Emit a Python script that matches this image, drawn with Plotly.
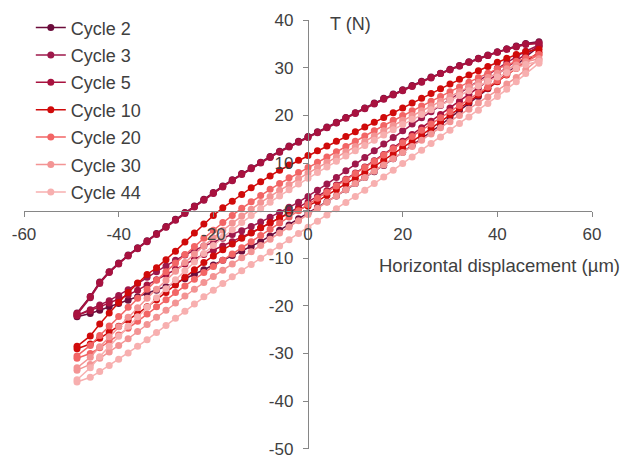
import plotly.graph_objects as go

# Horizontal displacement grid (µm) for each branch
X_GRID = [-48.8, -46, -44, -42, -40, -38, -36, -34, -32, -30, -28, -26, -24, -22, -20,
          -18, -16, -14, -12, -10, -8, -6, -4, -2, 0, 2, 4, 6, 8, 10, 12, 14, 16, 18,
          20, 22, 24, 26, 28, 30, 32, 34, 36, 38, 40, 42, 44, 46, 48.8]

cycles = ["Cycle 2", "Cycle 3", "Cycle 5", "Cycle 10", "Cycle 20", "Cycle 30", "Cycle 44"]
colors = ["#6C0C3B", "#9E184B", "#A8123F", "#D00A0A", "#F26565", "#F39494", "#F7AFAF"]

# Loading (lower) branches, T (N)
lower_c2 = [-22.3, -21.6, -20.9, -20.2, -19.5, -18.8, -18.1, -17.4, -16.7, -16.0, -15.2, -14.3, -13.4,
            -12.4, -11.4, -10.4, -9.4, -8.5, -7.5, -6.5, -5.3, -4.1, -3.0, -1.7, -0.5, 0.7, 1.9, 3.1,
            4.4, 5.7, 7.0, 8.2, 9.5, 10.9, 12.3, 13.7, 15.1, 16.5, 18.0, 19.5, 21.0, 22.5, 24.0, 25.6,
            27.2, 28.8, 30.5, 32.3, 34.5]
lower_c3 = [-22.0, -20.8, -19.8, -18.9, -17.8, -16.6, -15.3, -14.0, -12.8, -11.6, -10.4, -9.3, -8.3,
            -7.4, -6.6, -5.8, -5.0, -4.2, -3.3, -2.4, -1.4, -0.4, 0.7, 1.8, 3.0, 4.3, 5.6, 7.0, 8.4,
            9.8, 11.2, 12.6, 14.0, 15.4, 16.8, 18.2, 19.5, 20.8, 22.1, 23.4, 24.7, 26.0, 27.3, 28.6,
            29.9, 31.1, 32.3, 33.5, 34.8]
lower_c5 = [-22.0, -21.0, -20.2, -19.4, -18.6, -17.7, -16.7, -15.6, -14.5, -13.4, -12.3, -11.2, -10.2,
            -9.2, -8.3, -7.4, -6.5, -5.6, -4.6, -3.6, -2.6, -1.5, -0.4, 0.7, 1.8, 3.0, 4.2, 5.4, 6.6,
            7.9, 9.2, 10.5, 11.8, 13.2, 14.6, 16.0, 17.4, 18.8, 20.2, 21.6, 23.0, 24.4, 25.8, 27.2,
            28.6, 30.0, 31.4, 32.9, 34.6]
lower_c10 = [-29.0, -28.0, -26.8, -25.5, -24.3, -23.0, -21.6, -20.2, -18.7, -17.2, -15.6, -14.0, -12.4,
             -10.9, -9.5, -8.2, -7.0, -5.8, -4.7, -3.6, -2.5, -1.5, -0.6, 0.2, 1.0, 2.0, 3.2, 4.4, 5.6,
             6.8, 8.0, 9.3, 10.6, 11.9, 13.2, 14.5, 15.9, 17.3, 18.7, 20.1, 21.5, 22.9, 24.3, 25.7,
             27.1, 28.5, 29.9, 31.4, 33.3]
lower_c20 = [-31.0, -30.0, -28.8, -27.5, -26.1, -24.7, -23.2, -21.7, -20.2, -18.7, -17.2, -15.8, -14.4,
             -13.0, -11.7, -10.4, -9.1, -7.8, -6.5, -5.2, -3.9, -2.6, -1.3, 0.0, 1.3, 2.6, 3.9, 5.2,
             6.5, 7.8, 9.1, 10.4, 11.7, 13.0, 14.3, 15.6, 16.9, 18.2, 19.5, 20.8, 22.1, 23.4, 24.7,
             26.0, 27.3, 28.6, 29.9, 31.2, 32.8]
lower_c30 = [-33.5, -32.3, -31.0, -29.7, -28.3, -26.9, -25.4, -23.9, -22.4, -20.9, -19.4, -17.9, -16.5,
             -15.1, -13.8, -12.5, -11.2, -9.9, -8.6, -7.3, -6.0, -4.7, -3.4, -2.1, -0.8, 0.5, 1.8, 3.1,
             4.4, 5.7, 7.0, 8.3, 9.6, 10.9, 12.2, 13.5, 14.8, 16.1, 17.4, 18.7, 20.0, 21.3, 22.6, 23.9,
             25.2, 26.6, 28.0, 29.6, 31.7]
lower_c44 = [-36.0, -35.0, -33.8, -32.5, -31.2, -29.9, -28.5, -27.1, -25.6, -24.1, -22.6, -21.1, -19.6,
             -18.1, -16.7, -15.3, -13.9, -12.6, -11.3, -10.0, -8.7, -7.4, -6.1, -4.8, -3.5, -2.2, -0.9,
             0.4, 1.7, 3.0, 4.3, 5.7, 7.1, 8.5, 9.9, 11.3, 12.7, 14.1, 15.5, 16.9, 18.3, 19.7, 21.1,
             22.5, 24.0, 25.5, 27.1, 28.8, 31.0]

# Unloading (upper) branches, T (N)
upper_c2 = [-21.5, -18.0, -15.0, -12.8, -11.0, -9.3, -7.8, -6.3, -4.8, -3.3, -1.8, -0.4, 1.0, 2.4, 3.8,
            5.2, 6.5, 7.8, 9.0, 10.2, 11.4, 12.5, 13.6, 14.6, 15.6, 16.6, 17.6, 18.6, 19.6, 20.6, 21.6,
            22.6, 23.6, 24.5, 25.4, 26.3, 27.2, 28.1, 28.9, 29.7, 30.5, 31.3, 32.0, 32.7, 33.4, 34.0,
            34.6, 35.1, 35.5]
upper_c3 = [-21.8, -18.3, -15.3, -13.0, -11.2, -9.5, -8.0, -6.5, -5.0, -3.5, -2.0, -0.6, 0.8, 2.2, 3.6,
            5.0, 6.3, 7.6, 8.8, 10.0, 11.2, 12.3, 13.4, 14.4, 15.4, 16.4, 17.4, 18.4, 19.4, 20.4, 21.4,
            22.4, 23.4, 24.3, 25.2, 26.1, 27.0, 27.9, 28.8, 29.6, 30.4, 31.2, 31.9, 32.6, 33.3, 33.9,
            34.5, 35.0, 35.3]
upper_c5 = [-21.6, -18.1, -15.1, -12.9, -11.1, -9.4, -7.9, -6.4, -4.9, -3.4, -1.9, -0.5, 0.9, 2.3, 3.7,
            5.1, 6.4, 7.7, 8.9, 10.1, 11.3, 12.4, 13.5, 14.5, 15.5, 16.5, 17.5, 18.5, 19.5, 20.5, 21.5,
            22.5, 23.5, 24.4, 25.3, 26.2, 27.1, 28.0, 28.8, 29.6, 30.4, 31.2, 31.9, 32.6, 33.3, 33.9,
            34.4, 34.9, 35.1]
upper_c10 = [-28.5, -26.3, -23.8, -21.5, -19.3, -17.2, -15.2, -13.4, -12.0, -10.3, -8.5, -6.6, -4.7,
             -2.8, -1.0, 0.6, 2.0, 3.4, 4.8, 6.1, 7.3, 8.5, 9.6, 10.6, 11.6, 12.6, 13.6, 14.6, 15.6,
             16.6, 17.6, 18.6, 19.6, 20.6, 21.6, 22.6, 23.6, 24.6, 25.6, 26.6, 27.6, 28.5, 29.4,
             30.3, 31.2, 32.0, 32.8, 33.4, 33.9]
upper_c20 = [-30.5, -28.3, -26.2, -24.2, -22.2, -20.3, -18.4, -16.5, -14.6, -12.8, -11.0, -9.2, -7.5,
             -5.8, -4.1, -2.5, -1.0, 0.5, 1.9, 3.2, 4.5, 5.7, 6.9, 8.0, 9.1, 10.2, 11.3, 12.4, 13.5,
             14.6, 15.7, 16.8, 17.9, 19.0, 20.0, 21.0, 22.0, 23.0, 24.0, 25.0, 26.0, 27.0, 28.0, 28.9,
             29.8, 30.6, 31.4, 32.1, 32.7]
upper_c30 = [-33.0, -30.8, -28.6, -26.5, -24.4, -22.4, -20.4, -18.4, -16.5, -14.6, -12.7, -10.9, -9.1,
             -7.4, -5.7, -4.1, -2.6, -1.1, 0.3, 1.7, 3.0, 4.3, 5.5, 6.7, 7.9, 9.1, 10.2, 11.3, 12.4,
             13.5, 14.6, 15.7, 16.8, 17.9, 19.0, 20.0, 21.0, 22.0, 23.0, 24.0, 25.0, 26.0, 27.0, 28.0,
             28.9, 29.8, 30.6, 31.3, 31.9]
upper_c44 = [-35.5, -33.0, -30.7, -28.5, -26.4, -24.3, -22.3, -20.3, -18.3, -16.4, -14.5, -12.6, -10.8,
             -9.0, -7.3, -5.6, -4.0, -2.5, -1.0, 0.4, 1.8, 3.1, 4.4, 5.6, 6.8, 8.0, 9.2, 10.4, 11.5,
             12.6, 13.7, 14.8, 15.9, 17.0, 18.1, 19.2, 20.2, 21.2, 22.2, 23.2, 24.2, 25.2, 26.2, 27.2,
             28.1, 29.0, 29.9, 30.7, 31.4]

lowers = [lower_c2, lower_c3, lower_c5, lower_c10, lower_c20, lower_c30, lower_c44]
uppers = [upper_c2, upper_c3, upper_c5, upper_c10, upper_c20, upper_c30, upper_c44]

X_TICKS = [-60, -40, -20, 0, 20, 40, 60]
Y_TICKS = [-50, -40, -30, -20, -10, 0, 10, 20, 30, 40]
X_RANGE = [-60, 60]
Y_RANGE = [-50, 40]

FONT = "Liberation Sans, Arial, sans-serif"
TXT = "#404040"
AX = "#868686"

fig = go.Figure()
for name, col, lo, up in zip(cycles, colors, lowers, uppers):
    fig.add_trace(go.Scatter(
        x=X_GRID + X_GRID[::-1],
        y=lo + up[::-1],
        mode="lines+markers",
        name=name,
        legendgroup=name,
        line=dict(color=col, width=1.5),
        marker=dict(color=col, size=7, symbol="circle"),
    ))

eps = 0.06
x_pos = (0 - Y_RANGE[0] + eps) / (Y_RANGE[1] - Y_RANGE[0] + 2 * eps)
y_pos = 0.5

fig.update_layout(
    width=625, height=455,
    margin=dict(l=24, r=33, t=20, b=6, autoexpand=False),
    paper_bgcolor="white", plot_bgcolor="white",
    font=dict(family=FONT, size=17, color=TXT),
    showlegend=True,
    legend=dict(x=0.012, y=1.025, xanchor="left", yanchor="top",
                bgcolor="rgba(0,0,0,0)", font=dict(size=18, color=TXT),
                tracegroupgap=1, itemwidth=30),
    xaxis=dict(range=X_RANGE, tickvals=X_TICKS, ticktext=[str(v) for v in X_TICKS],
               showgrid=False, zeroline=False, automargin=False,
               showline=True, linecolor=AX, linewidth=1.3,
               ticks="outside", ticklen=5, tickcolor=AX, tickwidth=1.3,
               anchor="free", position=x_pos, ticklabelstandoff=3,
               ticklabeloverflow="allow",
               tickfont=dict(size=17, color=TXT)),
    yaxis=dict(range=[Y_RANGE[0] - eps, Y_RANGE[1] + eps], tickvals=Y_TICKS,
               ticktext=[str(v) for v in Y_TICKS],
               showgrid=False, zeroline=False, automargin=False,
               showline=True, linecolor=AX, linewidth=1.3,
               ticks="outside", ticklen=5, tickcolor=AX, tickwidth=1.3,
               anchor="free", position=y_pos, ticklabelstandoff=6,
               ticklabeloverflow="allow",
               tickfont=dict(size=17, color=TXT)),
    annotations=[
        dict(text="T (N)", xref="paper", yref="paper", x=(328 - 24) / 568, y=(449 - 24) / 429,
             xanchor="left", yanchor="middle", showarrow=False,
             font=dict(size=18, color=TXT)),
        dict(text="Horizontal displacement (µm)", xref="paper", yref="paper",
             x=(622 - 24) / 568, y=(449 - 265) / 429, xanchor="right", yanchor="middle",
             showarrow=False, font=dict(size=18.5, color=TXT)),
    ],
)

fig.write_html("out.html")
